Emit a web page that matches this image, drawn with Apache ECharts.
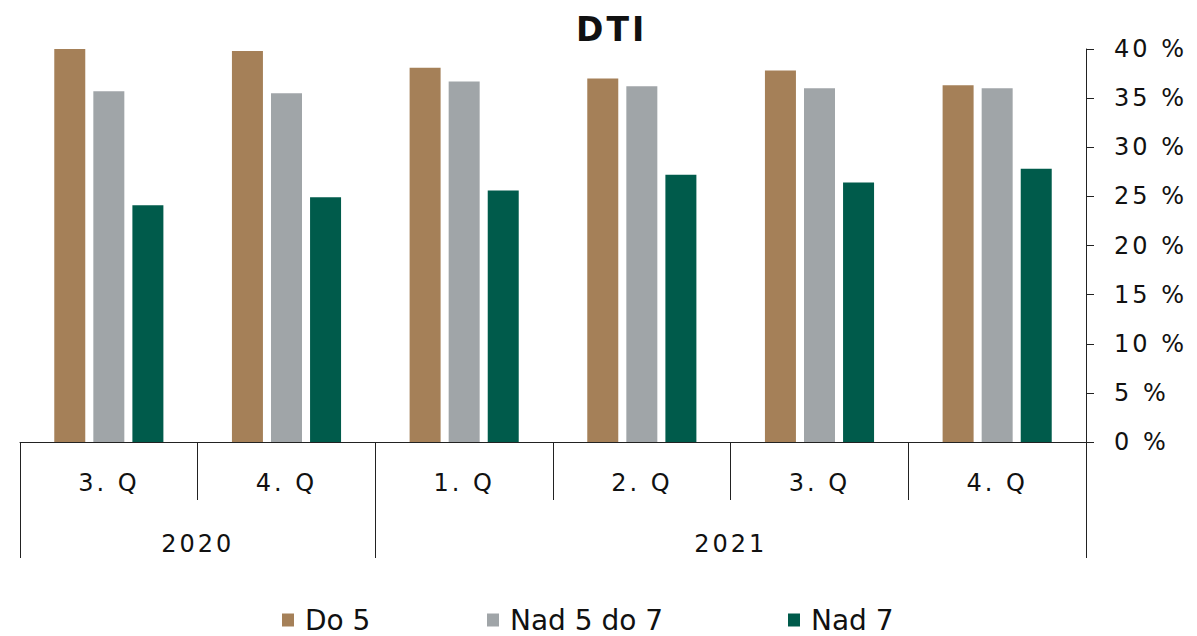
<!DOCTYPE html>
<html>
<head>
<meta charset="utf-8">
<script src="https://cdn.jsdelivr.net/npm/echarts@6/dist/echarts.min.js"></script>
<style>
  html, body { margin: 0; padding: 0; background: #ffffff; }
  #chart { width: 1197px; height: 636px; }
  /* wide-set axis labels and title */
  #chart text[style*="24px"], #chart text[style*="33px"] { letter-spacing: 3px; }
</style>
</head>
<body>
<div id="chart"></div>
<script>
// Quarter labels (first axis level) and the years they belong to (second level)
const quarters = ['3. Q', '4. Q', '1. Q', '2. Q', '3. Q', '4. Q'];
const years = ['2020', '2021'];
const quartersPerYear = [2, 4];

// Share of new loans by DTI band, in %
const seriesNames = ['Do 5', 'Nad 5 do 7', 'Nad 7'];
const do5     = [40.0, 39.8, 38.1, 37.0, 37.8, 36.3];
const nad5do7 = [35.7, 35.5, 36.7, 36.2, 36.0, 36.0];
const nad7    = [24.1, 24.9, 25.6, 27.2, 26.4, 27.8];

// Value axis range
const yMin = 0, yMax = 40, yStep = 5;

const FONT = 'DejaVu Sans';
const INK = '#111111';
const LINE = '#222222';
const colors = ['#A58058', '#A0A5A8', '#005B4B'];

// Year boundaries and centres along the quarter axis
const yearEdges = [0];
quartersPerYear.forEach(n => yearEdges.push(yearEdges[yearEdges.length - 1] + n));
const yearCentres = years.map((_, i) => (yearEdges[i] + yearEdges[i + 1]) / 2);

const chart = echarts.init(document.getElementById('chart'), null, { renderer: 'svg' });

const legendLeft = [282, 487, 788];

chart.setOption({
  animation: false,
  backgroundColor: '#ffffff',
  color: colors,
  title: {
    text: 'DTI',
    left: 576,
    top: 13,
    padding: 0,
    textStyle: { fontFamily: FONT, fontSize: 33, fontWeight: 'bold', color: INK }
  },
  legend: seriesNames.map((name, i) => ({
    data: [name],
    left: legendLeft[i],
    top: 606,
    padding: 0,
    icon: 'rect',
    itemWidth: 12,
    itemHeight: 13,
    textStyle: { fontFamily: FONT, fontSize: 28, color: INK, padding: [0, 0, 0, 6] }
  })),
  grid: { left: 20, right: 111, top: 49, bottom: 194, containLabel: false },
  xAxis: [
    {
      type: 'category',
      data: quarters,
      position: 'bottom',
      boundaryGap: true,
      axisLine: { show: true, lineStyle: { color: LINE, width: 1 } },
      axisTick: { show: true, interval: 0, length: 58, lineStyle: { color: LINE, width: 1 } },
      axisLabel: { interval: 0, margin: 29, fontFamily: FONT, fontSize: 24, color: INK },
      splitLine: { show: false }
    },
    {
      type: 'value',
      min: yearEdges[0],
      max: yearEdges[yearEdges.length - 1],
      position: 'bottom',
      axisLine: { show: false },
      axisTick: { show: true, customValues: yearEdges, length: 116, lineStyle: { color: LINE, width: 1 } },
      axisLabel: {
        customValues: yearCentres,
        margin: 90,
        fontFamily: FONT, fontSize: 24, color: INK,
        formatter: v => years[yearCentres.indexOf(v)] || ''
      },
      splitLine: { show: false }
    }
  ],
  yAxis: {
    type: 'value',
    position: 'right',
    min: yMin,
    max: yMax,
    interval: yStep,
    axisLine: { show: true, onZero: false, lineStyle: { color: LINE, width: 1 } },
    axisTick: { show: true, inside: false, length: 8, lineStyle: { color: LINE, width: 1 } },
    axisLabel: { margin: 28, fontFamily: FONT, fontSize: 24, color: INK, formatter: '{value} %' },
    splitLine: { show: false }
  },
  series: [do5, nad5do7, nad7].map((vals, i) => ({
    name: seriesNames[i],
    type: 'bar',
    xAxisIndex: 0,
    data: vals,
    barWidth: 31,
    barGap: '26%',
    itemStyle: { color: colors[i] }
  }))
});
</script>
</body>
</html>
